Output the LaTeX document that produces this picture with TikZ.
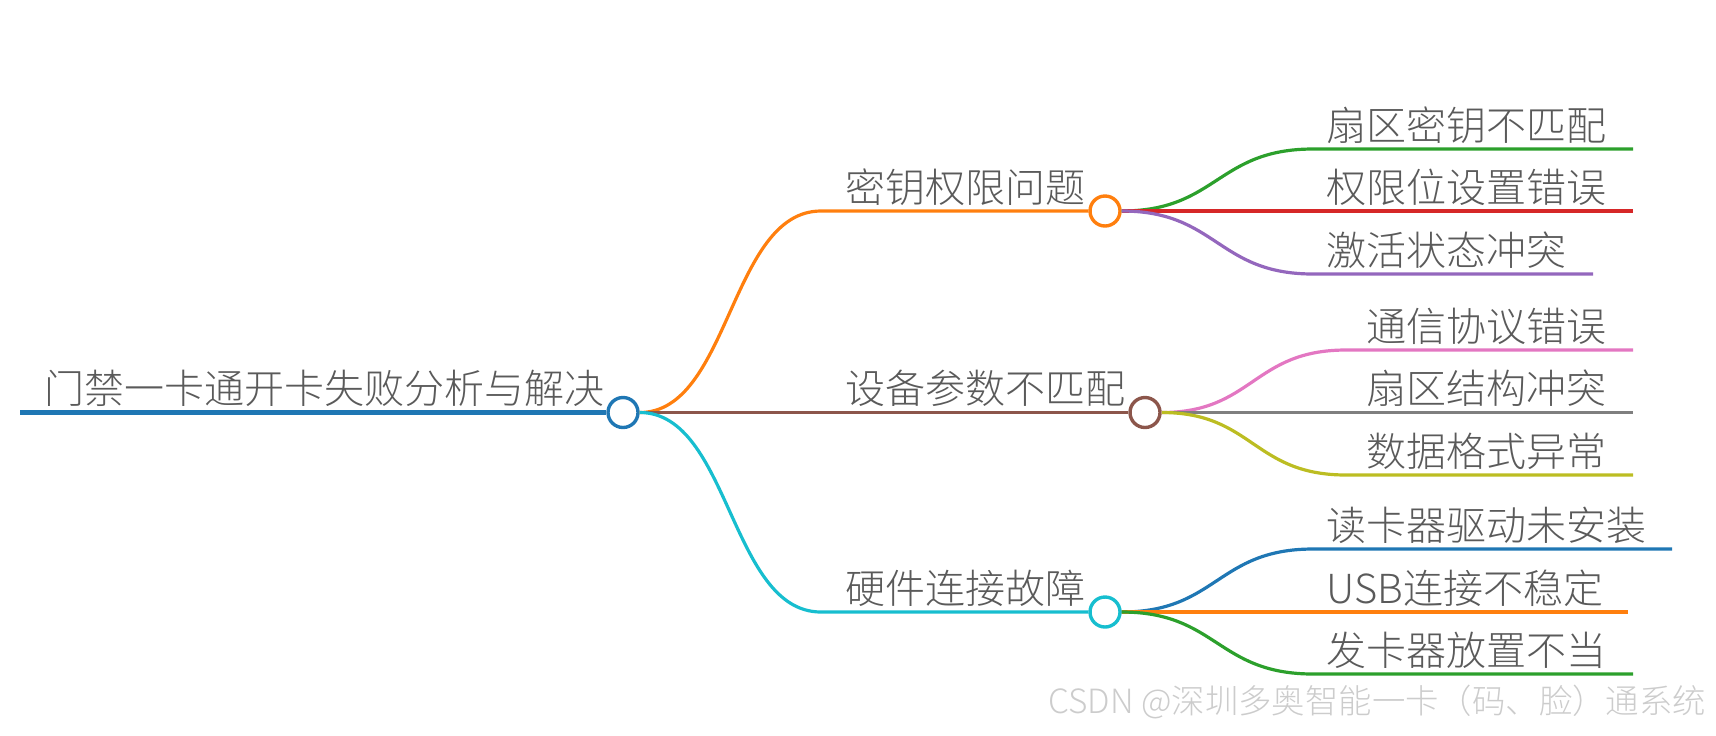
\documentclass[tikz,border=0pt]{standalone}
\usepackage{fontspec}
\setmainfont{Noto Sans CJK SC}[UprightFont=* Light]
\definecolor{cblue}{HTML}{1F77B4}
\definecolor{corange}{HTML}{FF7F0E}
\definecolor{cbrown}{HTML}{8C564B}
\definecolor{ccyan}{HTML}{17BECF}
\definecolor{cgreen}{HTML}{2CA02C}
\definecolor{cred}{HTML}{D62728}
\definecolor{cpurple}{HTML}{9467BD}
\definecolor{cpink}{HTML}{E377C2}
\definecolor{cgray}{HTML}{7F7F7F}
\definecolor{colive}{HTML}{BCBD22}
\definecolor{textgray}{HTML}{5A5A5A}
\definecolor{markgray}{HTML}{CCCCCC}
\begin{document}
\begin{tikzpicture}[x=0.5pt, y=-0.5pt,
    txt/.style={anchor=base west, inner sep=0pt, text=textgray, font=\fontsize{20}{24}\selectfont},
    knot/.style={circle, draw=#1, fill=white, line width=1.7pt, minimum size=15pt, inner sep=0pt},
    lnk/.style={draw=#1, line width=1.6pt}]

    \useasboundingbox (0,0) rectangle (1716,735);

    % Raiz
    \coordinate (r0) at (20,412.5);
    \node[knot=cblue] (r) at (623,412.5) {};
    \draw[lnk=cblue, line width=2.2pt] (r0) -- (r.west);
    \node[txt] (rt) at (44,403.5) {门禁一卡通开卡失败分析与解决};

    % Ramas
    \coordinate (s1) at (821,211);
    \coordinate (s2) at (821,412.5);
    \coordinate (s3) at (821,612);
    \node[knot=corange] (k1) at (1105,211) {};
    \node[knot=cbrown] (k2) at (1145,412.5) {};
    \node[knot=ccyan] (k3) at (1105,612) {};
    \draw[lnk=corange] (r.east) .. controls (730,412.5) and (730,211) .. (s1) -- (k1.west);
    \draw[lnk=cbrown] (r.east) -- (s2) -- (k2.west);
    \draw[lnk=ccyan] (r.east) .. controls (730,412.5) and (730,612) .. (s3) -- (k3.west);
    \node[txt] (t1) at (845,202) {密钥权限问题};
    \node[txt] (t2) at (845,403.5) {设备参数不匹配};
    \node[txt] (t3) at (845,603) {硬件连接故障};

    % Hojas de la rama 1
    \coordinate (a1) at (1313,149);  \coordinate (a1e) at (1633,149);
    \coordinate (a2) at (1313,211);  \coordinate (a2e) at (1633,211);
    \coordinate (a3) at (1313,274);  \coordinate (a3e) at (1593,274);
    \draw[lnk=cgreen] (k1.east) .. controls (1217,211) and (1217,149) .. (a1) -- (a1e);
    \draw[lnk=cred] (k1.east) -- (a2) -- (a2e);
    \draw[lnk=cpurple] (k1.east) .. controls (1217,211) and (1217,274) .. (a3) -- (a3e);
    \node[txt] (a1t) at (1326,140) {扇区密钥不匹配};
    \node[txt] (a2t) at (1326,202) {权限位设置错误};
    \node[txt] (a3t) at (1326,265) {激活状态冲突};

    % Hojas de la rama 2
    \coordinate (b1) at (1346,350);   \coordinate (b1e) at (1633,350);
    \coordinate (b2) at (1346,412.5); \coordinate (b2e) at (1633,412.5);
    \coordinate (b3) at (1346,475);   \coordinate (b3e) at (1633,475);
    \draw[lnk=cpink] (k2.east) .. controls (1253,412.5) and (1253,350) .. (b1) -- (b1e);
    \draw[lnk=cgray] (k2.east) -- (b2) -- (b2e);
    \draw[lnk=colive] (k2.east) .. controls (1253,412.5) and (1253,475) .. (b3) -- (b3e);
    \node[txt] (b1t) at (1366,341) {通信协议错误};
    \node[txt] (b2t) at (1366,403.5) {扇区结构冲突};
    \node[txt] (b3t) at (1366,466) {数据格式异常};

    % Hojas de la rama 3
    \coordinate (c1) at (1313,549);  \coordinate (c1e) at (1672,549);
    \coordinate (c2) at (1313,612);  \coordinate (c2e) at (1628,612);
    \coordinate (c3) at (1313,674);  \coordinate (c3e) at (1633,674);
    \draw[lnk=cblue] (k3.east) .. controls (1217,612) and (1217,549) .. (c1) -- (c1e);
    \draw[lnk=corange] (k3.east) -- (c2) -- (c2e);
    \draw[lnk=cgreen] (k3.east) .. controls (1217,612) and (1217,674) .. (c3) -- (c3e);
    \node[txt] (c1t) at (1326,540) {读卡器驱动未安装};
    \node[txt] (c2t) at (1326,603) {USB连接不稳定};
    \node[txt] (c3t) at (1326,665) {发卡器放置不当};

    % Marca de agua
    \node[anchor=base west, inner sep=0pt, text=markgray, font=\fontsize{16.7}{20}\selectfont] (wm) at (1048,713) {CSDN @深圳多奥智能一卡（码、脸）通系统};

\end{tikzpicture}
\end{document}
